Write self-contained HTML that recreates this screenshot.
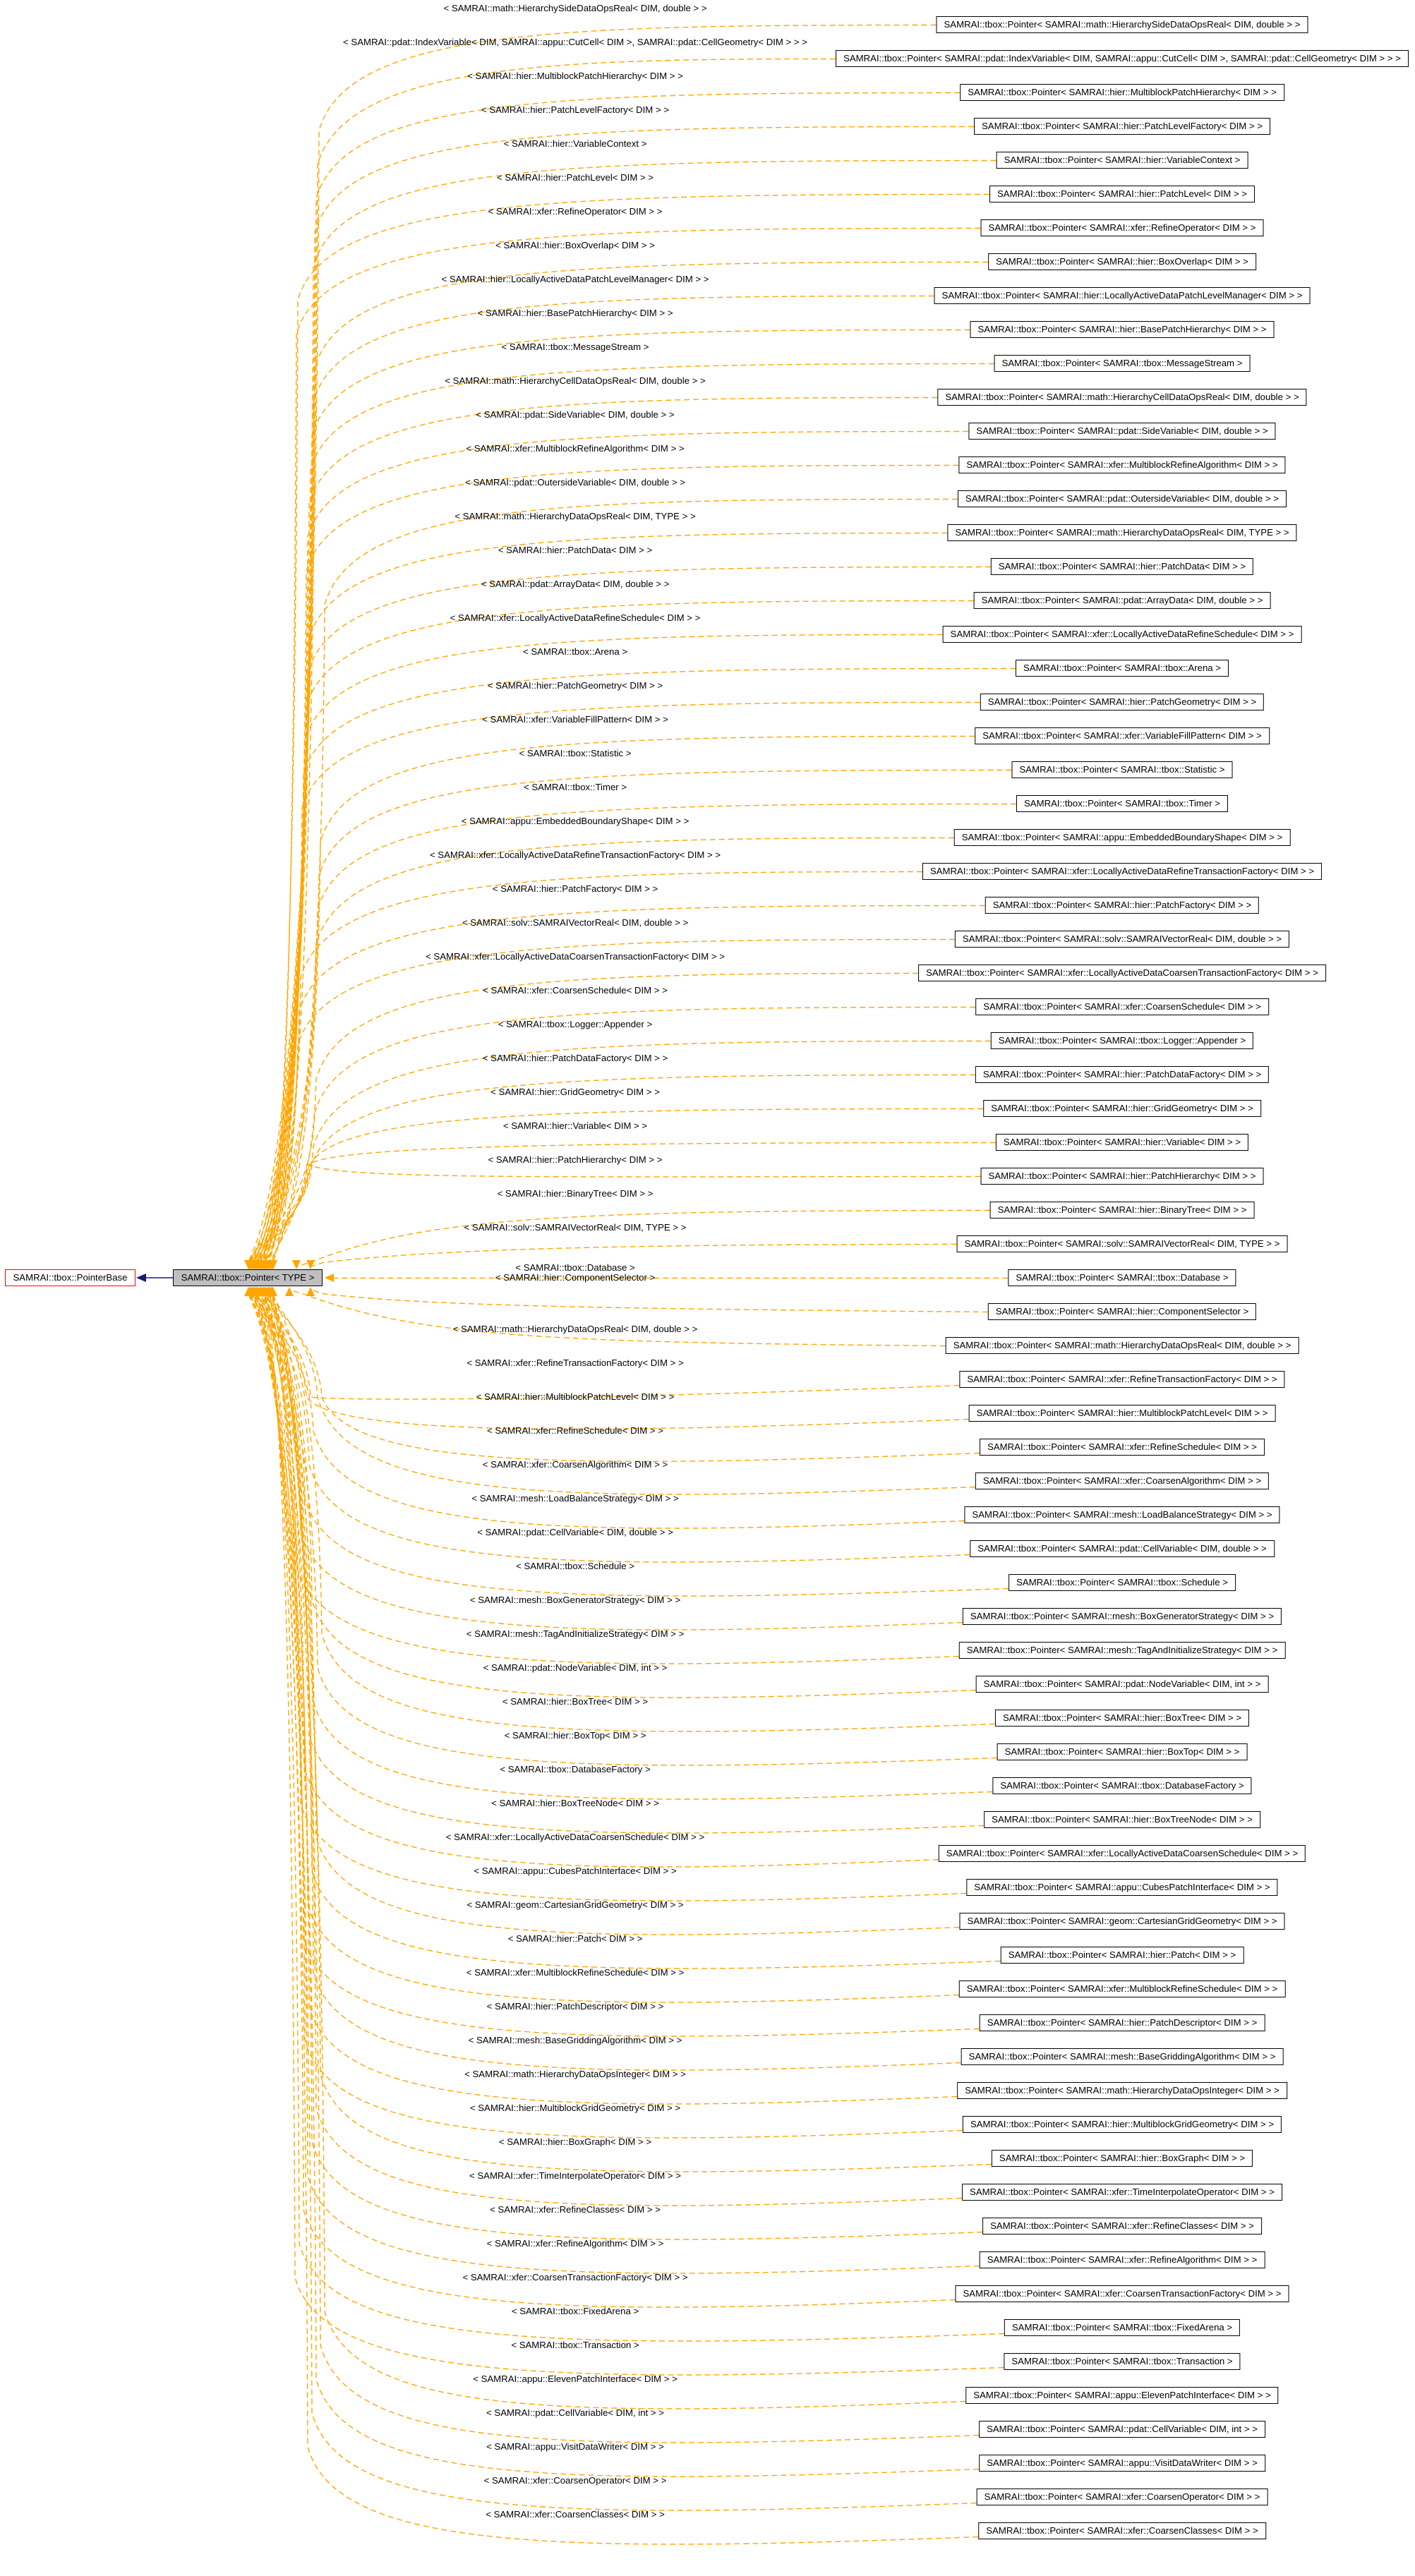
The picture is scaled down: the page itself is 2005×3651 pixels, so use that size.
<!DOCTYPE html>
<html><head><meta charset="utf-8">
<style>
html,body{margin:0;padding:0;background:#fff;}
body{width:2005px;height:3651px;position:relative;overflow:hidden;font-family:"Liberation Sans",sans-serif;font-size:13.2px;color:#000;}
.b{position:absolute;left:1590px;transform:translateX(-50%);height:22px;line-height:22px;border:1.5px solid #000;padding:0 10px;white-space:nowrap;background:#fff;}
.l{position:absolute;left:815px;transform:translateX(-50%);white-space:nowrap;line-height:14px;}
svg{position:absolute;left:0;top:0;}
</style></head><body>
<svg id="s" width="2005" height="3651"></svg>
<div style="position:absolute;left:7px;top:1799px;width:183px;height:22px;line-height:22px;border:1.5px solid #f00;text-align:center;white-space:nowrap;">SAMRAI::tbox::PointerBase</div>
<div style="position:absolute;left:245px;top:1799px;width:210px;height:22px;line-height:22px;border:1.5px solid #000;background:#bfbfbf;text-align:center;white-space:nowrap;">SAMRAI::tbox::Pointer&lt; TYPE &gt;</div>

<div class="b">SAMRAI::tbox::Pointer&lt; SAMRAI::math::HierarchySideDataOpsReal&lt; DIM, double &gt; &gt;</div>
<div class="b">SAMRAI::tbox::Pointer&lt; SAMRAI::pdat::IndexVariable&lt; DIM, SAMRAI::appu::CutCell&lt; DIM &gt;, SAMRAI::pdat::CellGeometry&lt; DIM &gt; &gt; &gt;</div>
<div class="b">SAMRAI::tbox::Pointer&lt; SAMRAI::hier::MultiblockPatchHierarchy&lt; DIM &gt; &gt;</div>
<div class="b">SAMRAI::tbox::Pointer&lt; SAMRAI::hier::PatchLevelFactory&lt; DIM &gt; &gt;</div>
<div class="b">SAMRAI::tbox::Pointer&lt; SAMRAI::hier::VariableContext &gt;</div>
<div class="b">SAMRAI::tbox::Pointer&lt; SAMRAI::hier::PatchLevel&lt; DIM &gt; &gt;</div>
<div class="b">SAMRAI::tbox::Pointer&lt; SAMRAI::xfer::RefineOperator&lt; DIM &gt; &gt;</div>
<div class="b">SAMRAI::tbox::Pointer&lt; SAMRAI::hier::BoxOverlap&lt; DIM &gt; &gt;</div>
<div class="b">SAMRAI::tbox::Pointer&lt; SAMRAI::hier::LocallyActiveDataPatchLevelManager&lt; DIM &gt; &gt;</div>
<div class="b">SAMRAI::tbox::Pointer&lt; SAMRAI::hier::BasePatchHierarchy&lt; DIM &gt; &gt;</div>
<div class="b">SAMRAI::tbox::Pointer&lt; SAMRAI::tbox::MessageStream &gt;</div>
<div class="b">SAMRAI::tbox::Pointer&lt; SAMRAI::math::HierarchyCellDataOpsReal&lt; DIM, double &gt; &gt;</div>
<div class="b">SAMRAI::tbox::Pointer&lt; SAMRAI::pdat::SideVariable&lt; DIM, double &gt; &gt;</div>
<div class="b">SAMRAI::tbox::Pointer&lt; SAMRAI::xfer::MultiblockRefineAlgorithm&lt; DIM &gt; &gt;</div>
<div class="b">SAMRAI::tbox::Pointer&lt; SAMRAI::pdat::OutersideVariable&lt; DIM, double &gt; &gt;</div>
<div class="b">SAMRAI::tbox::Pointer&lt; SAMRAI::math::HierarchyDataOpsReal&lt; DIM, TYPE &gt; &gt;</div>
<div class="b">SAMRAI::tbox::Pointer&lt; SAMRAI::hier::PatchData&lt; DIM &gt; &gt;</div>
<div class="b">SAMRAI::tbox::Pointer&lt; SAMRAI::pdat::ArrayData&lt; DIM, double &gt; &gt;</div>
<div class="b">SAMRAI::tbox::Pointer&lt; SAMRAI::xfer::LocallyActiveDataRefineSchedule&lt; DIM &gt; &gt;</div>
<div class="b">SAMRAI::tbox::Pointer&lt; SAMRAI::tbox::Arena &gt;</div>
<div class="b">SAMRAI::tbox::Pointer&lt; SAMRAI::hier::PatchGeometry&lt; DIM &gt; &gt;</div>
<div class="b">SAMRAI::tbox::Pointer&lt; SAMRAI::xfer::VariableFillPattern&lt; DIM &gt; &gt;</div>
<div class="b">SAMRAI::tbox::Pointer&lt; SAMRAI::tbox::Statistic &gt;</div>
<div class="b">SAMRAI::tbox::Pointer&lt; SAMRAI::tbox::Timer &gt;</div>
<div class="b">SAMRAI::tbox::Pointer&lt; SAMRAI::appu::EmbeddedBoundaryShape&lt; DIM &gt; &gt;</div>
<div class="b">SAMRAI::tbox::Pointer&lt; SAMRAI::xfer::LocallyActiveDataRefineTransactionFactory&lt; DIM &gt; &gt;</div>
<div class="b">SAMRAI::tbox::Pointer&lt; SAMRAI::hier::PatchFactory&lt; DIM &gt; &gt;</div>
<div class="b">SAMRAI::tbox::Pointer&lt; SAMRAI::solv::SAMRAIVectorReal&lt; DIM, double &gt; &gt;</div>
<div class="b">SAMRAI::tbox::Pointer&lt; SAMRAI::xfer::LocallyActiveDataCoarsenTransactionFactory&lt; DIM &gt; &gt;</div>
<div class="b">SAMRAI::tbox::Pointer&lt; SAMRAI::xfer::CoarsenSchedule&lt; DIM &gt; &gt;</div>
<div class="b">SAMRAI::tbox::Pointer&lt; SAMRAI::tbox::Logger::Appender &gt;</div>
<div class="b">SAMRAI::tbox::Pointer&lt; SAMRAI::hier::PatchDataFactory&lt; DIM &gt; &gt;</div>
<div class="b">SAMRAI::tbox::Pointer&lt; SAMRAI::hier::GridGeometry&lt; DIM &gt; &gt;</div>
<div class="b">SAMRAI::tbox::Pointer&lt; SAMRAI::hier::Variable&lt; DIM &gt; &gt;</div>
<div class="b">SAMRAI::tbox::Pointer&lt; SAMRAI::hier::PatchHierarchy&lt; DIM &gt; &gt;</div>
<div class="b">SAMRAI::tbox::Pointer&lt; SAMRAI::hier::BinaryTree&lt; DIM &gt; &gt;</div>
<div class="b">SAMRAI::tbox::Pointer&lt; SAMRAI::solv::SAMRAIVectorReal&lt; DIM, TYPE &gt; &gt;</div>
<div class="b">SAMRAI::tbox::Pointer&lt; SAMRAI::tbox::Database &gt;</div>
<div class="b">SAMRAI::tbox::Pointer&lt; SAMRAI::hier::ComponentSelector &gt;</div>
<div class="b">SAMRAI::tbox::Pointer&lt; SAMRAI::math::HierarchyDataOpsReal&lt; DIM, double &gt; &gt;</div>
<div class="b">SAMRAI::tbox::Pointer&lt; SAMRAI::xfer::RefineTransactionFactory&lt; DIM &gt; &gt;</div>
<div class="b">SAMRAI::tbox::Pointer&lt; SAMRAI::hier::MultiblockPatchLevel&lt; DIM &gt; &gt;</div>
<div class="b">SAMRAI::tbox::Pointer&lt; SAMRAI::xfer::RefineSchedule&lt; DIM &gt; &gt;</div>
<div class="b">SAMRAI::tbox::Pointer&lt; SAMRAI::xfer::CoarsenAlgorithm&lt; DIM &gt; &gt;</div>
<div class="b">SAMRAI::tbox::Pointer&lt; SAMRAI::mesh::LoadBalanceStrategy&lt; DIM &gt; &gt;</div>
<div class="b">SAMRAI::tbox::Pointer&lt; SAMRAI::pdat::CellVariable&lt; DIM, double &gt; &gt;</div>
<div class="b">SAMRAI::tbox::Pointer&lt; SAMRAI::tbox::Schedule &gt;</div>
<div class="b">SAMRAI::tbox::Pointer&lt; SAMRAI::mesh::BoxGeneratorStrategy&lt; DIM &gt; &gt;</div>
<div class="b">SAMRAI::tbox::Pointer&lt; SAMRAI::mesh::TagAndInitializeStrategy&lt; DIM &gt; &gt;</div>
<div class="b">SAMRAI::tbox::Pointer&lt; SAMRAI::pdat::NodeVariable&lt; DIM, int &gt; &gt;</div>
<div class="b">SAMRAI::tbox::Pointer&lt; SAMRAI::hier::BoxTree&lt; DIM &gt; &gt;</div>
<div class="b">SAMRAI::tbox::Pointer&lt; SAMRAI::hier::BoxTop&lt; DIM &gt; &gt;</div>
<div class="b">SAMRAI::tbox::Pointer&lt; SAMRAI::tbox::DatabaseFactory &gt;</div>
<div class="b">SAMRAI::tbox::Pointer&lt; SAMRAI::hier::BoxTreeNode&lt; DIM &gt; &gt;</div>
<div class="b">SAMRAI::tbox::Pointer&lt; SAMRAI::xfer::LocallyActiveDataCoarsenSchedule&lt; DIM &gt; &gt;</div>
<div class="b">SAMRAI::tbox::Pointer&lt; SAMRAI::appu::CubesPatchInterface&lt; DIM &gt; &gt;</div>
<div class="b">SAMRAI::tbox::Pointer&lt; SAMRAI::geom::CartesianGridGeometry&lt; DIM &gt; &gt;</div>
<div class="b">SAMRAI::tbox::Pointer&lt; SAMRAI::hier::Patch&lt; DIM &gt; &gt;</div>
<div class="b">SAMRAI::tbox::Pointer&lt; SAMRAI::xfer::MultiblockRefineSchedule&lt; DIM &gt; &gt;</div>
<div class="b">SAMRAI::tbox::Pointer&lt; SAMRAI::hier::PatchDescriptor&lt; DIM &gt; &gt;</div>
<div class="b">SAMRAI::tbox::Pointer&lt; SAMRAI::mesh::BaseGriddingAlgorithm&lt; DIM &gt; &gt;</div>
<div class="b">SAMRAI::tbox::Pointer&lt; SAMRAI::math::HierarchyDataOpsInteger&lt; DIM &gt; &gt;</div>
<div class="b">SAMRAI::tbox::Pointer&lt; SAMRAI::hier::MultiblockGridGeometry&lt; DIM &gt; &gt;</div>
<div class="b">SAMRAI::tbox::Pointer&lt; SAMRAI::hier::BoxGraph&lt; DIM &gt; &gt;</div>
<div class="b">SAMRAI::tbox::Pointer&lt; SAMRAI::xfer::TimeInterpolateOperator&lt; DIM &gt; &gt;</div>
<div class="b">SAMRAI::tbox::Pointer&lt; SAMRAI::xfer::RefineClasses&lt; DIM &gt; &gt;</div>
<div class="b">SAMRAI::tbox::Pointer&lt; SAMRAI::xfer::RefineAlgorithm&lt; DIM &gt; &gt;</div>
<div class="b">SAMRAI::tbox::Pointer&lt; SAMRAI::xfer::CoarsenTransactionFactory&lt; DIM &gt; &gt;</div>
<div class="b">SAMRAI::tbox::Pointer&lt; SAMRAI::tbox::FixedArena &gt;</div>
<div class="b">SAMRAI::tbox::Pointer&lt; SAMRAI::tbox::Transaction &gt;</div>
<div class="b">SAMRAI::tbox::Pointer&lt; SAMRAI::appu::ElevenPatchInterface&lt; DIM &gt; &gt;</div>
<div class="b">SAMRAI::tbox::Pointer&lt; SAMRAI::pdat::CellVariable&lt; DIM, int &gt; &gt;</div>
<div class="b">SAMRAI::tbox::Pointer&lt; SAMRAI::appu::VisitDataWriter&lt; DIM &gt; &gt;</div>
<div class="b">SAMRAI::tbox::Pointer&lt; SAMRAI::xfer::CoarsenOperator&lt; DIM &gt; &gt;</div>
<div class="b">SAMRAI::tbox::Pointer&lt; SAMRAI::xfer::CoarsenClasses&lt; DIM &gt; &gt;</div>

<div class="l">&lt; SAMRAI::math::HierarchySideDataOpsReal&lt; DIM, double &gt; &gt;</div>
<div class="l">&lt; SAMRAI::pdat::IndexVariable&lt; DIM, SAMRAI::appu::CutCell&lt; DIM &gt;, SAMRAI::pdat::CellGeometry&lt; DIM &gt; &gt; &gt;</div>
<div class="l">&lt; SAMRAI::hier::MultiblockPatchHierarchy&lt; DIM &gt; &gt;</div>
<div class="l">&lt; SAMRAI::hier::PatchLevelFactory&lt; DIM &gt; &gt;</div>
<div class="l">&lt; SAMRAI::hier::VariableContext &gt;</div>
<div class="l">&lt; SAMRAI::hier::PatchLevel&lt; DIM &gt; &gt;</div>
<div class="l">&lt; SAMRAI::xfer::RefineOperator&lt; DIM &gt; &gt;</div>
<div class="l">&lt; SAMRAI::hier::BoxOverlap&lt; DIM &gt; &gt;</div>
<div class="l">&lt; SAMRAI::hier::LocallyActiveDataPatchLevelManager&lt; DIM &gt; &gt;</div>
<div class="l">&lt; SAMRAI::hier::BasePatchHierarchy&lt; DIM &gt; &gt;</div>
<div class="l">&lt; SAMRAI::tbox::MessageStream &gt;</div>
<div class="l">&lt; SAMRAI::math::HierarchyCellDataOpsReal&lt; DIM, double &gt; &gt;</div>
<div class="l">&lt; SAMRAI::pdat::SideVariable&lt; DIM, double &gt; &gt;</div>
<div class="l">&lt; SAMRAI::xfer::MultiblockRefineAlgorithm&lt; DIM &gt; &gt;</div>
<div class="l">&lt; SAMRAI::pdat::OutersideVariable&lt; DIM, double &gt; &gt;</div>
<div class="l">&lt; SAMRAI::math::HierarchyDataOpsReal&lt; DIM, TYPE &gt; &gt;</div>
<div class="l">&lt; SAMRAI::hier::PatchData&lt; DIM &gt; &gt;</div>
<div class="l">&lt; SAMRAI::pdat::ArrayData&lt; DIM, double &gt; &gt;</div>
<div class="l">&lt; SAMRAI::xfer::LocallyActiveDataRefineSchedule&lt; DIM &gt; &gt;</div>
<div class="l">&lt; SAMRAI::tbox::Arena &gt;</div>
<div class="l">&lt; SAMRAI::hier::PatchGeometry&lt; DIM &gt; &gt;</div>
<div class="l">&lt; SAMRAI::xfer::VariableFillPattern&lt; DIM &gt; &gt;</div>
<div class="l">&lt; SAMRAI::tbox::Statistic &gt;</div>
<div class="l">&lt; SAMRAI::tbox::Timer &gt;</div>
<div class="l">&lt; SAMRAI::appu::EmbeddedBoundaryShape&lt; DIM &gt; &gt;</div>
<div class="l">&lt; SAMRAI::xfer::LocallyActiveDataRefineTransactionFactory&lt; DIM &gt; &gt;</div>
<div class="l">&lt; SAMRAI::hier::PatchFactory&lt; DIM &gt; &gt;</div>
<div class="l">&lt; SAMRAI::solv::SAMRAIVectorReal&lt; DIM, double &gt; &gt;</div>
<div class="l">&lt; SAMRAI::xfer::LocallyActiveDataCoarsenTransactionFactory&lt; DIM &gt; &gt;</div>
<div class="l">&lt; SAMRAI::xfer::CoarsenSchedule&lt; DIM &gt; &gt;</div>
<div class="l">&lt; SAMRAI::tbox::Logger::Appender &gt;</div>
<div class="l">&lt; SAMRAI::hier::PatchDataFactory&lt; DIM &gt; &gt;</div>
<div class="l">&lt; SAMRAI::hier::GridGeometry&lt; DIM &gt; &gt;</div>
<div class="l">&lt; SAMRAI::hier::Variable&lt; DIM &gt; &gt;</div>
<div class="l">&lt; SAMRAI::hier::PatchHierarchy&lt; DIM &gt; &gt;</div>
<div class="l">&lt; SAMRAI::hier::BinaryTree&lt; DIM &gt; &gt;</div>
<div class="l">&lt; SAMRAI::solv::SAMRAIVectorReal&lt; DIM, TYPE &gt; &gt;</div>
<div class="l">&lt; SAMRAI::tbox::Database &gt;</div>
<div class="l">&lt; SAMRAI::hier::ComponentSelector &gt;</div>
<div class="l">&lt; SAMRAI::math::HierarchyDataOpsReal&lt; DIM, double &gt; &gt;</div>
<div class="l">&lt; SAMRAI::xfer::RefineTransactionFactory&lt; DIM &gt; &gt;</div>
<div class="l">&lt; SAMRAI::hier::MultiblockPatchLevel&lt; DIM &gt; &gt;</div>
<div class="l">&lt; SAMRAI::xfer::RefineSchedule&lt; DIM &gt; &gt;</div>
<div class="l">&lt; SAMRAI::xfer::CoarsenAlgorithm&lt; DIM &gt; &gt;</div>
<div class="l">&lt; SAMRAI::mesh::LoadBalanceStrategy&lt; DIM &gt; &gt;</div>
<div class="l">&lt; SAMRAI::pdat::CellVariable&lt; DIM, double &gt; &gt;</div>
<div class="l">&lt; SAMRAI::tbox::Schedule &gt;</div>
<div class="l">&lt; SAMRAI::mesh::BoxGeneratorStrategy&lt; DIM &gt; &gt;</div>
<div class="l">&lt; SAMRAI::mesh::TagAndInitializeStrategy&lt; DIM &gt; &gt;</div>
<div class="l">&lt; SAMRAI::pdat::NodeVariable&lt; DIM, int &gt; &gt;</div>
<div class="l">&lt; SAMRAI::hier::BoxTree&lt; DIM &gt; &gt;</div>
<div class="l">&lt; SAMRAI::hier::BoxTop&lt; DIM &gt; &gt;</div>
<div class="l">&lt; SAMRAI::tbox::DatabaseFactory &gt;</div>
<div class="l">&lt; SAMRAI::hier::BoxTreeNode&lt; DIM &gt; &gt;</div>
<div class="l">&lt; SAMRAI::xfer::LocallyActiveDataCoarsenSchedule&lt; DIM &gt; &gt;</div>
<div class="l">&lt; SAMRAI::appu::CubesPatchInterface&lt; DIM &gt; &gt;</div>
<div class="l">&lt; SAMRAI::geom::CartesianGridGeometry&lt; DIM &gt; &gt;</div>
<div class="l">&lt; SAMRAI::hier::Patch&lt; DIM &gt; &gt;</div>
<div class="l">&lt; SAMRAI::xfer::MultiblockRefineSchedule&lt; DIM &gt; &gt;</div>
<div class="l">&lt; SAMRAI::hier::PatchDescriptor&lt; DIM &gt; &gt;</div>
<div class="l">&lt; SAMRAI::mesh::BaseGriddingAlgorithm&lt; DIM &gt; &gt;</div>
<div class="l">&lt; SAMRAI::math::HierarchyDataOpsInteger&lt; DIM &gt; &gt;</div>
<div class="l">&lt; SAMRAI::hier::MultiblockGridGeometry&lt; DIM &gt; &gt;</div>
<div class="l">&lt; SAMRAI::hier::BoxGraph&lt; DIM &gt; &gt;</div>
<div class="l">&lt; SAMRAI::xfer::TimeInterpolateOperator&lt; DIM &gt; &gt;</div>
<div class="l">&lt; SAMRAI::xfer::RefineClasses&lt; DIM &gt; &gt;</div>
<div class="l">&lt; SAMRAI::xfer::RefineAlgorithm&lt; DIM &gt; &gt;</div>
<div class="l">&lt; SAMRAI::xfer::CoarsenTransactionFactory&lt; DIM &gt; &gt;</div>
<div class="l">&lt; SAMRAI::tbox::FixedArena &gt;</div>
<div class="l">&lt; SAMRAI::tbox::Transaction &gt;</div>
<div class="l">&lt; SAMRAI::appu::ElevenPatchInterface&lt; DIM &gt; &gt;</div>
<div class="l">&lt; SAMRAI::pdat::CellVariable&lt; DIM, int &gt; &gt;</div>
<div class="l">&lt; SAMRAI::appu::VisitDataWriter&lt; DIM &gt; &gt;</div>
<div class="l">&lt; SAMRAI::xfer::CoarsenOperator&lt; DIM &gt; &gt;</div>
<div class="l">&lt; SAMRAI::xfer::CoarsenClasses&lt; DIM &gt; &gt;</div>

<script>
(function(){
var svg=document.getElementById("s");
var boxes=document.querySelectorAll(".b"),labels=document.querySelectorAll(".l");
var out="";
var O="#ffa500";
out+='<line x1="245" y1="1811" x2="205" y2="1811" stroke="#191970" stroke-width="1.5"/>';
out+='<polygon points="193,1811 207,1805 207,1817" fill="#191970"/>';
for(var i=0;i<boxes.length;i++){
  var y=23+48*i, cy=y+12.5;
  boxes[i].style.top=y+"px";
  var ly=cy-24;
  if(i==37) ly=1797; if(i==38) ly=1811;
  labels[i].style.top=(ly-7)+"px";
  var bl=boxes[i].getBoundingClientRect().left;
  var d,ax,ay,dir;
  var k=(i%7)*4;
  if(i>=35 && i<=39){
    if(i==37){ d="M"+bl+","+cy+" L470,"+cy; ax=460;ay=1811;dir="l";}
    else if(i<37){ var ey=1799; ax=440-(36-i)*20; ay=ey;
      d="M"+bl+","+cy+" C800,"+cy+" 600,"+(cy+10)+" "+(ax+20)+","+(ey-10)+" L"+ax+","+(ey-4); dir="d";}
    else { var ey2=1824; ax=440-(i-38)*30; ay=ey2;
      d="M"+bl+","+cy+" C800,"+(cy-5)+" 600,"+(cy-10)+" "+(ax+20)+","+(ey2+10)+" L"+ax+","+(ey2+4); dir="u";}
  } else if(i<35){
    ax=352+((i*5)%36); ay=1799;
    var vx=460-((34-i)%10)*2-k;
    var my=Math.min(cy+150,1650);
    d="M"+bl+","+cy+" C800,"+cy+" "+(vx+40)+","+(cy+5)+" "+vx+","+my+" C"+(vx-5)+","+1720+" "+(ax+5)+",1760 "+ax+",1790";
    dir="d";
  } else {
    ax=352+((i*5)%36); ay=1824;
    var vx2=460-((i-40)%10)*2-k;
    var my2=Math.max(cy-120,1980);
    var dy=cy+30;
    d="M"+bl+","+(cy+8)+" C800,"+dy+" "+(vx2+40)+","+dy+" "+vx2+","+my2+" C"+(vx2-5)+",1900 "+(ax+5)+",1860 "+ax+",1833";
    dir="u";
  }
  out+='<path d="'+d+'" fill="none" stroke="'+O+'" stroke-width="1.4" stroke-dasharray="8,5"/>';
  var p;
  if(dir=="d") p=(ax-6)+","+(ay-13)+" "+(ax+6)+","+(ay-13)+" "+ax+","+ay;
  else if(dir=="u") p=(ax-6)+","+(ay+13)+" "+(ax+6)+","+(ay+13)+" "+ax+","+ay;
  else p=(ax+13)+","+(ay-6)+" "+(ax+13)+","+(ay+6)+" "+ax+","+ay;
  out+='<polygon points="'+p+'" fill="'+O+'"/>';
}
svg.innerHTML=out;
})();
</script>
</body></html>
